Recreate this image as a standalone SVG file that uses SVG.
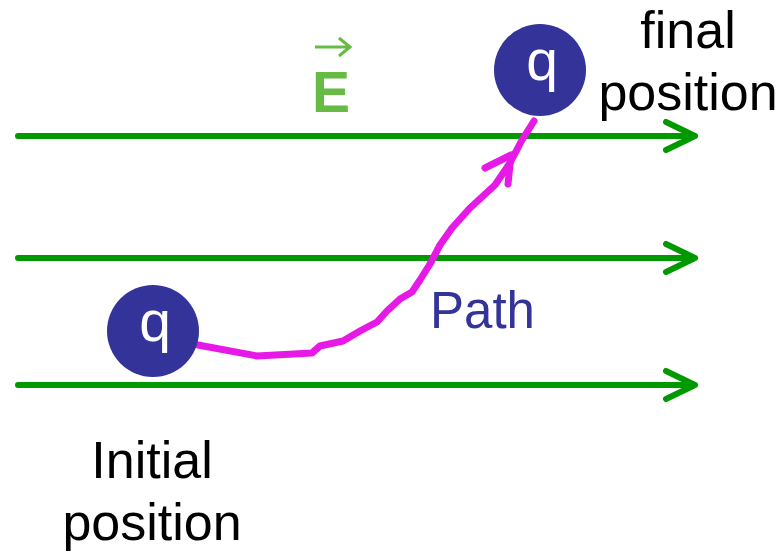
<svg xmlns="http://www.w3.org/2000/svg" width="782" height="552" viewBox="0 0 782 552">
<defs>
<style>
.field{stroke:#009900;stroke-width:6;fill:none;stroke-linecap:round;stroke-linejoin:round}
.lbl{font-family:"Liberation Sans",Arial,sans-serif;font-size:52px;fill:#000}
.q{font-family:"Liberation Sans",Arial,sans-serif;font-size:57px;fill:#fff;text-anchor:middle}
.charge{fill:#333399}
.path{stroke:#e619e6;stroke-width:7;fill:none;stroke-linecap:round;stroke-linejoin:round}
</style>
</defs>
<g id="connectors">
<g id="field-lines">
<path class="field" d="M18 136H695M666 122L695 136L666 150"/>
<path class="field" d="M18 258H695M666 244L695 258L666 272"/>
<path class="field" d="M18 385H695M666 371L695 385L666 399"/>
</g>
<path id="trajectory" class="path" d="M198 345L257 356L312 353L320 346L343 341L360 331L377 322L387 311L400 299L412 292L420 280L430 264L440 245L452 228L470 208L495 185L510 163L522 140L534 121"/>
<path id="trajectory-arrow" class="path" d="M485 168L511 155L508 184"/>
</g>
<g id="node-initial">
<circle class="charge" cx="153" cy="331" r="46"/>
<text class="q" x="155" y="341">q</text>
</g>
<g id="node-final">
<circle class="charge" cx="540" cy="70" r="46"/>
<text class="q" x="542" y="80">q</text>
</g>
<g id="label-E">
<text x="312" y="112" font-family="Liberation Sans,Arial,sans-serif" font-weight="bold" font-size="57" fill="#66bb44">E</text>
<path d="M315 47H350M339 38L350 47L339 56" stroke="#66bb44" stroke-width="3" fill="none"/>
</g>
<text class="lbl" x="688" y="48" text-anchor="middle">final</text>
<text class="lbl" x="688" y="110" text-anchor="middle">position</text>
<text class="lbl" x="152" y="478" text-anchor="middle">Initial</text>
<text class="lbl" x="152" y="540" text-anchor="middle">position</text>
<text x="430" y="328" font-family="Liberation Sans,Arial,sans-serif" font-size="51" fill="#333399">Path</text>
</svg>
